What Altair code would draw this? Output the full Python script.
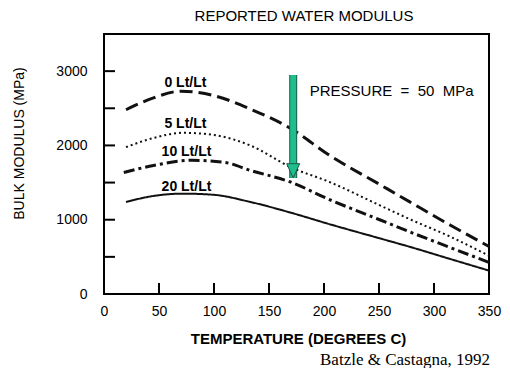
import altair as alt
import pandas as pd

# ---- data ----
series_names = ["0 Lt/Lt", "5 Lt/Lt", "10 Lt/Lt", "20 Lt/Lt"]
temps_0 = [20, 45, 70, 100, 133, 170, 205, 250, 278, 315, 350]
mod_0 = [2480, 2640, 2730, 2670, 2490, 2225, 1866, 1480, 1240, 925, 640]
temps_5 = [20, 45, 72, 100, 133, 170, 205, 250, 278, 315, 350]
mod_5 = [1977, 2100, 2170, 2140, 2000, 1705, 1508, 1199, 1007, 770, 515]
temps_10 = [18, 45, 80, 110, 133, 170, 205, 250, 278, 315, 350]
mod_10 = [1635, 1730, 1800, 1770, 1664, 1505, 1271, 1003, 836, 624, 425]
temps_20 = [20, 45, 72, 100, 133, 170, 205, 250, 278, 315, 350]
mod_20 = [1239, 1320, 1351, 1335, 1239, 1094, 940, 752, 635, 470, 315]

label_temp = [74, 74, 75, 75]
label_mod = [2836, 2295, 1910, 1440]

y_tick_values = [500, 1000, 1500, 2000, 2500, 3000]
y_label_values = [0, 1000, 2000, 3000]
x_tick_values = [50, 100, 150, 200, 250, 300]
x_label_values = [0, 50, 100, 150, 200, 250, 300, 350]

arrow_temp = [172]
arrow_top = [2948]
arrow_tip = [1562]

pressure_text = ["PRESSURE\u00a0 =\u00a0 50\u00a0 MPa"]
pressure_temp = [187]
pressure_mod = [2739]

# ---- styles ----
dashes = [[13, 6], [2, 3], [11, 4, 3, 4], [1, 0]]
widths = [3, 2, 3, 2]
FONT = "Liberation Sans"

xscale = alt.Scale(domain=[0, 350], nice=False, zero=False)
yscale = alt.Scale(domain=[0, 3500], nice=False)

x_axis = alt.Axis(values=x_label_values, ticks=False, tickSize=0, domain=False, grid=False,
                  labelFont=FONT, labelFontSize=14, labelColor="black", labelPadding=10,
                  labelFlush=False, labelOverlap=False, format="d",
                  title="TEMPERATURE (DEGREES C)", titleFont=FONT, titleFontSize=15,
                  titleFontWeight="bold", titleColor="black", titleX=194, titleY=44,
                  titleBaseline="middle", titleAlign="center")
y_axis = alt.Axis(values=y_label_values, ticks=False, tickSize=0, domain=False, grid=False,
                  labelFont=FONT, labelFontSize=14, labelColor="black", labelPadding=17,
                  labelFlush=False, labelOverlap=False, format="d",
                  title="BULK MODULUS (MPa)", titleFont=FONT, titleFontSize=14,
                  titleFontWeight="normal", titleColor="black", titleX=-85, titleY=109,
                  titleBaseline="middle", titleAlign="center", titleAngle=270)


def X(field):
    return alt.X(field, scale=xscale, axis=x_axis)


def Y(field):
    return alt.Y(field, scale=yscale, axis=y_axis)


all_temps = [temps_0, temps_5, temps_10, temps_20]
all_mods = [mod_0, mod_5, mod_10, mod_20]

layers = []
for i, name in enumerate(series_names):
    df = pd.DataFrame({"temp": all_temps[i], "mod": all_mods[i], "series": name})
    layers.append(
        alt.Chart(df).mark_line(color="#111111", strokeWidth=widths[i], strokeDash=dashes[i],
                                interpolate="monotone").encode(
            x=X("temp:Q"), y=Y("mod:Q"))
    )

lab_df = pd.DataFrame({"temp": label_temp, "mod": label_mod, "text": series_names})
labels = alt.Chart(lab_df).mark_text(font=FONT, fontSize=14, fontWeight="bold",
                                     color="black", baseline="middle").encode(
    x=X("temp:Q"), y=Y("mod:Q"), text="text:N")

yt = alt.Chart(pd.DataFrame({"mod": y_tick_values})).mark_rule(color="black", strokeWidth=2).encode(
    y=Y("mod:Q"), x=alt.value(0), x2=alt.value(11))
xt = alt.Chart(pd.DataFrame({"temp": x_tick_values})).mark_rule(color="black", strokeWidth=2).encode(
    x=X("temp:Q"), y=alt.value(260), y2=alt.value(249))

arr_df = pd.DataFrame({"temp": arrow_temp, "mod": arrow_top, "tip": arrow_tip})
shaft_out = alt.Chart(arr_df).mark_rule(color="#24584a", strokeWidth=8).encode(
    x=X("temp:Q"), y=Y("mod:Q"), y2=alt.Y2("tip:Q"))
shaft_in = alt.Chart(arr_df).mark_rule(color="#1dbf8c", strokeWidth=6).encode(
    x=X("temp:Q"), y=Y("mod:Q"), y2=alt.Y2("tip:Q"))
head = alt.Chart(arr_df).mark_point(shape="M-1,-2.2L1,-2.2L0,0Z", filled=True, fill="#1dbf8c",
                                    stroke="#24584a", strokeWidth=1, opacity=1, size=169).encode(
    x=X("temp:Q"), y=Y("tip:Q"))

press = alt.Chart(pd.DataFrame({"temp": pressure_temp, "mod": pressure_mod, "s": pressure_text})).mark_text(
    font=FONT, fontSize=15, color="black", align="left", baseline="middle").encode(
    x=X("temp:Q"), y=Y("mod:Q"), text="s:N")

title = alt.Chart(pd.DataFrame({"s": ["REPORTED WATER MODULUS"]})).mark_text(
    font=FONT, fontSize=15, color="black", align="center", baseline="middle").encode(
    x=alt.value(200), y=alt.value(-18), text="s:N")

cite = alt.Chart(pd.DataFrame({"s": ["Batzle & Castagna, 1992"]})).mark_text(
    font="Liberation Serif", fontSize=17, color="black", align="right", baseline="middle").encode(
    x=alt.value(386), y=alt.value(326), text="s:N")

chart = alt.layer(*layers, labels, yt, xt, shaft_out, shaft_in, head, press, title, cite).properties(
    width=385, height=260,
    autosize=alt.AutoSizeParams(type="none"),
    padding={"left": 96, "top": 26, "right": 13, "bottom": 74},
    background="white",
).configure_view(stroke="black", strokeWidth=2)

chart.save("out.html", embed_options={"renderer": "svg", "actions": False})
